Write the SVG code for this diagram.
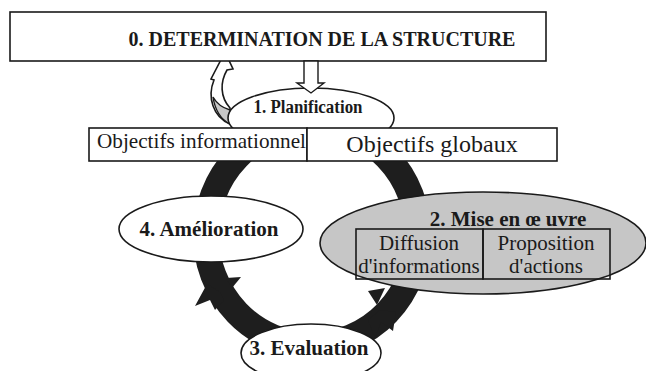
<svg xmlns="http://www.w3.org/2000/svg" width="646" height="371" viewBox="0 0 646 371">
<style>
.box{fill:#fff;stroke:#1a1a1a;stroke-width:1.6}
.nf{fill:none;stroke:#1a1a1a;stroke-width:1.6}
.ell{fill:#fff;stroke:#1a1a1a;stroke-width:1.6}
.b{font-family:"Liberation Serif",serif;font-weight:bold;fill:#1a1a1a}
.r{font-family:"Liberation Serif",serif;fill:#1a1a1a}
.ring{fill:#1e1e1e}
</style>
<rect width="646" height="371" fill="#fff"/>
<g id="connectors">
  <ellipse cx="312" cy="235" rx="106" ry="110" fill="none" stroke="#1e1e1e" stroke-width="26"/>
  <polygon class="ring" points="207,284 195,306 210,300 215,310 224,300 220,292"/>
  <polygon class="ring" points="226,278 241,277 232,288"/>
  <polygon class="ring" points="385,288 368,291 377,305"/>
  <polygon class="ring" points="396,312 393,331 381,322 375,338 368,320 380,310"/>
  <path d="M225,52 L233,69 L227,70 C220,82 220,97 230,108 L230,124 C213,117 207,97 214,80 L211,79 Z" fill="#fff" stroke="#1a1a1a" stroke-width="1.6"/>
  <path d="M213,97 C217,104 223,108 230,110 L230,124 C220,119 215,110 213,97 Z" fill="#c8c8c8" stroke="#1a1a1a" stroke-width="1.4"/>
</g>
<g id="n0">
  <rect class="box" x="10" y="12" width="536" height="49"/>
  <text class="b" x="322" y="46" font-size="20" text-anchor="middle">0. DETERMINATION DE LA STRUCTURE</text>
</g>
<g id="n1">
  <ellipse class="ell" cx="311" cy="118" rx="83" ry="30"/>
  <text class="b" x="308" y="113" font-size="18" text-anchor="middle" textLength="109" lengthAdjust="spacingAndGlyphs">1. Planification</text>
</g>
<g id="arrow-down">
  <polygon points="304,61 318,61 318,83 324,83 311,93 297,83 304,83" fill="#fff" stroke="#1a1a1a" stroke-width="1.4"/>
</g>
<g id="objectifs">
  <rect class="box" x="89" y="128" width="218" height="33"/>
  <text class="r" x="97" y="148" font-size="21" textLength="209" lengthAdjust="spacingAndGlyphs">Objectifs informationnel</text>
  <rect class="box" x="307" y="128" width="250" height="33"/>
  <text class="r" x="432" y="152" font-size="24" text-anchor="middle">Objectifs globaux</text>
</g>
<g id="n4">
  <ellipse class="ell" cx="211" cy="229" rx="92" ry="33"/>
  <text class="b" x="209" y="236" font-size="21" text-anchor="middle">4. Amélioration</text>
</g>
<g id="n2">
  <ellipse cx="483" cy="243" rx="163" ry="51" fill="#c6c6c6" stroke="#1a1a1a" stroke-width="1.6"/>
  <text class="b" x="508" y="226" font-size="21" text-anchor="middle">2. Mise en œ uvre</text>
  <rect class="nf" x="356" y="229" width="127" height="50"/>
  <rect class="nf" x="483" y="229" width="127" height="50"/>
  <text class="r" x="419" y="250" font-size="21" text-anchor="middle">Diffusion</text>
  <text class="r" x="419" y="273" font-size="21" text-anchor="middle">d'informations</text>
  <text class="r" x="546" y="250" font-size="21" text-anchor="middle">Proposition</text>
  <text class="r" x="546" y="273" font-size="21" text-anchor="middle">d'actions</text>
</g>
<g id="n3">
  <ellipse class="ell" cx="311" cy="353" rx="70" ry="29"/>
  <text class="b" x="309" y="355" font-size="21" text-anchor="middle">3. Evaluation</text>
</g>
</svg>
